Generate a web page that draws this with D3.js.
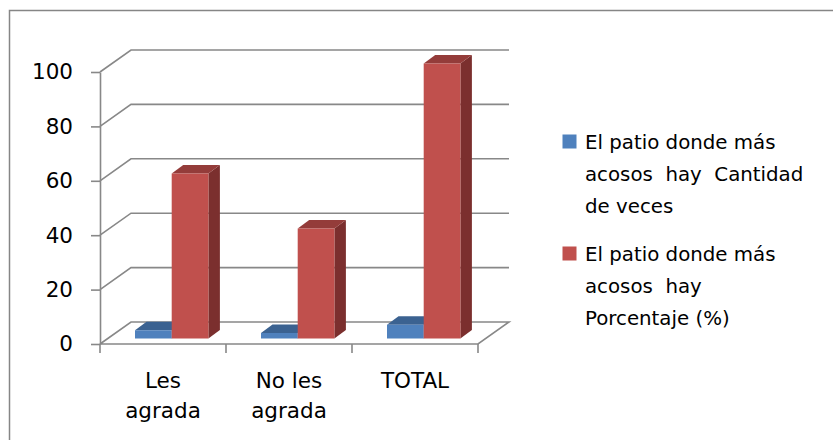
<!DOCTYPE html>
<html>
<head>
<meta charset="utf-8">
<script src="https://cdn.jsdelivr.net/npm/d3@7"></script>
<style>
  body { margin: 0; background: #fff; }
  text { font-family: "DejaVu Sans", "Liberation Sans", sans-serif; fill: #000; }
</style>
</head>
<body>
<script>
// Data
const categories = ["Les agrada", "No les agrada", "TOTAL"];
const categoryLines = [["Les", "agrada"], ["No les", "agrada"], ["TOTAL"]];
const seriesNames = ["El patio donde más acosos  hay  Cantidad de veces", "El patio donde más acosos  hay Porcentaje (%)"];
const legendLines = [
    ["El patio donde más", "acosos  hay  Cantidad", "de veces"],
    ["El patio donde más", "acosos  hay", "Porcentaje (%)"]
];
const cantidad = [3, 2, 5];
const porcentaje = [60, 40, 100];
const yTicks = [0, 20, 40, 60, 80, 100];

const width = 833;
const height = 440;
const fontFamily = "'DejaVu Sans', 'Liberation Sans', sans-serif";

const svg = d3.select("body").append("svg")
    .attr("width", width)
    .attr("height", height);

// outer chart border (runs off the right and bottom of the picture)
svg.append("rect")
    .attr("x", 9.5).attr("y", 10.5)
    .attr("width", 900).attr("height", 500)
    .attr("fill", "none")
    .attr("stroke", "#868686")
    .attr("stroke-width", 1.5);

// front plane scales
const x = d3.scaleBand().domain(categories).range([100, 478]);
const y = d3.scaleLinear().domain([0, 100]).range([344, 72]);
// the plane the bars stand in (half way into the depth)
const yBar = d3.scaleLinear().domain([0, 100]).range([338.5, 63.5]);
const xSeries = d3.scaleBand().domain([0, 1]).range([0, 73.4]);

const wall = { dx: 31, dy: -22 };
const barDepth = { dx: 11.5, dy: -8.5 };
const axisColor = "#888888";

// gridlines on the back wall plus the left side diagonals
const grid = svg.append("g")
    .attr("fill", "none")
    .attr("stroke", axisColor)
    .attr("stroke-width", 1.6);

grid.selectAll("path.grid")
    .data(yTicks)
    .enter().append("path")
    .attr("class", "grid")
    .attr("d", (d) => {
        const x0 = x.range()[0];
        const x1 = x.range()[1];
        const y0 = y(d);
        let p = `M ${x0} ${y0} L ${x0 + wall.dx} ${y0 + wall.dy} L ${x1 + wall.dx} ${y0 + wall.dy}`;
        if (d === 0) {
            p += ` L ${x1} ${y0} L ${x0} ${y0}`;
        }
        return p;
    });

// y axis
const yAxis = svg.append("g")
    .attr("transform", `translate(${x.range()[0]},0)`)
    .call(d3.axisLeft(y).tickValues(yTicks).tickSize(9).tickSizeOuter(0).tickPadding(18));

yAxis.select(".domain").attr("stroke", axisColor).attr("stroke-width", 1.6);
yAxis.selectAll(".tick line").attr("stroke", axisColor).attr("stroke-width", 1.6);
yAxis.selectAll(".tick text")
    .style("font-family", fontFamily)
    .style("font-size", "21.5px")
    .attr("fill", "#000");

// x axis ticks at category boundaries
const xEdges = categories.map((c) => x(c)).concat([x.range()[1]]);
svg.append("g").selectAll("line")
    .data(xEdges)
    .enter().append("line")
    .attr("x1", (d) => d).attr("x2", (d) => d)
    .attr("y1", y(0)).attr("y2", y(0) + 9)
    .attr("stroke", axisColor)
    .attr("stroke-width", 1.6);

// category labels
const catLabel = svg.append("g").selectAll("text")
    .data(categories)
    .enter().append("text")
    .attr("text-anchor", "middle")
    .style("font-size", "21.5px")
    .attr("x", (d) => x(d) + x.bandwidth() / 2)
    .attr("y", 387.5);

catLabel.selectAll("tspan")
    .data((d, i) => categoryLines[i])
    .enter().append("tspan")
    .attr("x", function () { return d3.select(this.parentNode).attr("x"); })
    .attr("dy", (d, i) => i === 0 ? 0 : 30)
    .text((d) => d);

// bars
const colors = [
    { front: "#4F81BD", top: "#3B6291", side: "#385D8A" },
    { front: "#C0504D", top: "#943C3A", side: "#7B2F2E" }
];
const series = [cantidad, porcentaje];

const bars = [];
categories.forEach((c, ci) => {
    series.forEach((s, si) => {
        bars.push({ cat: c, s: si, value: s[ci] });
    });
});

const barG = svg.append("g")
    .selectAll("g.bar")
    .data(bars)
    .enter().append("g")
    .attr("class", "bar");

const bx = (d) => x(d.cat) + 35 + xSeries(d.s);
const bw = xSeries.bandwidth();

// side face
barG.append("path")
    .attr("fill", (d) => colors[d.s].side)
    .attr("d", (d) => {
        const x1 = bx(d) + bw;
        const yt = yBar(d.value);
        const yb = yBar(0);
        return `M ${x1} ${yt} L ${x1 + barDepth.dx} ${yt + barDepth.dy} L ${x1 + barDepth.dx} ${yb + barDepth.dy} L ${x1} ${yb} Z`;
    });

// top face
barG.append("path")
    .attr("fill", (d) => colors[d.s].top)
    .attr("d", (d) => {
        const x0 = bx(d);
        const x1 = x0 + bw;
        const yt = yBar(d.value);
        return `M ${x0} ${yt} L ${x0 + barDepth.dx} ${yt + barDepth.dy} L ${x1 + barDepth.dx} ${yt + barDepth.dy} L ${x1} ${yt} Z`;
    });

// front face
barG.append("rect")
    .attr("fill", (d) => colors[d.s].front)
    .attr("x", bx)
    .attr("y", (d) => yBar(d.value))
    .attr("width", bw)
    .attr("height", (d) => yBar(0) - yBar(d.value));

// legend
const legendTop = [134.5, 246.5];
const legend = svg.append("g").selectAll("g")
    .data(seriesNames)
    .enter().append("g")
    .attr("transform", (d, i) => `translate(562.5,${legendTop[i]})`);

legend.append("rect")
    .attr("width", 14).attr("height", 14)
    .attr("fill", (d, i) => colors[i].front);

legend.append("text")
    .attr("x", 22.5)
    .attr("y", 14)
    .style("font-size", "19.8px")
    .style("white-space", "pre")
    .selectAll("tspan")
    .data((d, i) => legendLines[i])
    .enter().append("tspan")
    .attr("x", 22.5)
    .attr("dy", (d, i) => i === 0 ? 0 : 32)
    .text((d) => d);
</script>
</body>
</html>
